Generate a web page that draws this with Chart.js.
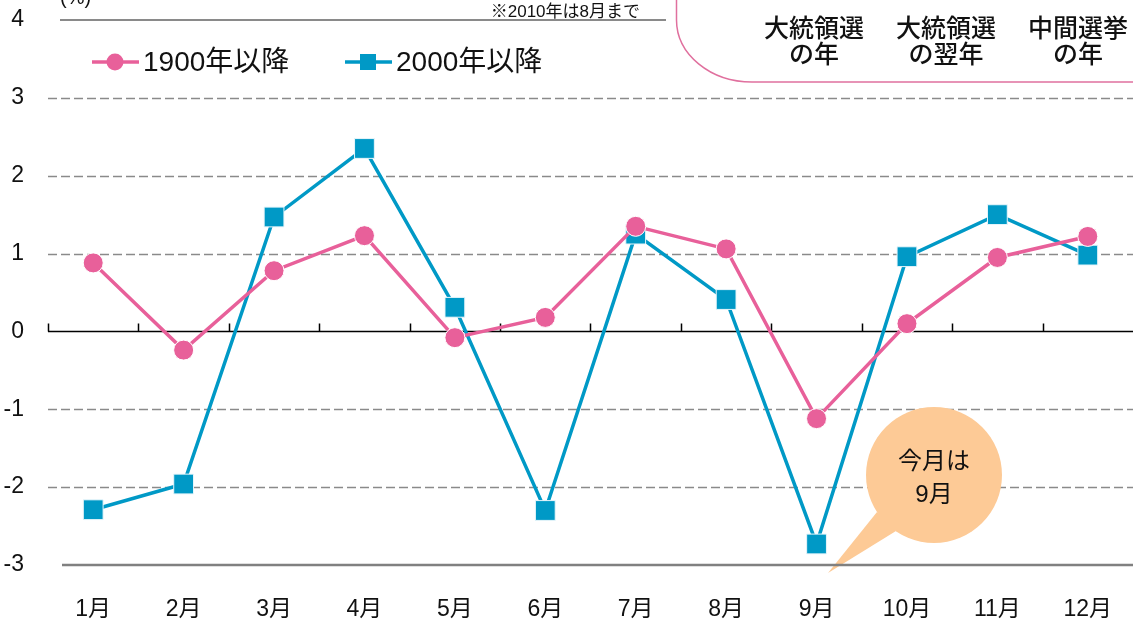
<!DOCTYPE html>
<html>
<head>
<meta charset="utf-8">
<script src="https://cdn.jsdelivr.net/npm/chart.js@4/dist/chart.umd.min.js"></script>
<style>
  html, body { margin: 0; padding: 0; background: #fff; }
  #wrap { width: 1133px; height: 622px; position: relative; }
</style>
</head>
<body>
<div id="wrap"><canvas id="c" width="1133" height="622"></canvas></div>
<script>
// month labels
const months = ['1月', '2月', '3月', '4月', '5月', '6月', '7月', '8月', '9月', '10月', '11月', '12月'];
// average monthly change (%)
const since1900 = [0.88, -0.24, 0.78, 1.23, -0.08, 0.18, 1.35, 1.06, -1.12, 0.10, 0.95, 1.22];
const since2000 = [-2.29, -1.96, 1.47, 2.35, 0.31, -2.30, 1.25, 0.41, -2.73, 0.96, 1.50, 0.98];
const seriesNames = ['1900年以降', '2000年以降'];
const boxLabels = [['大統領選', 'の年'], ['大統領選', 'の翌年'], ['中間選挙', 'の年']];

const FONT = '"Liberation Sans", "Noto Sans CJK JP", sans-serif';
const PINK = '#e8609a';
const BLUE = '#0099c6';

// grid lines, zero line with ticks, callout bubble
const backdrop = {
    id: 'backdrop',
    beforeDatasetsDraw(chart) {
        const ctx = chart.ctx;
        const area = chart.chartArea;
        const y = chart.scales.y;
        const x = chart.scales.x;
        ctx.save();

        // dashed grid
        y.ticks.forEach(t => {
            const py = Math.round(y.getPixelForValue(t.value)) + 0.5;
            if (t.value === 0 || t.value === 4 || t.value === -3) return;
            ctx.strokeStyle = '#8a8a8a';
            ctx.lineWidth = 1.3;
            ctx.setLineDash([9, 4]);
            ctx.beginPath();
            ctx.moveTo(area.left, py);
            ctx.lineTo(area.right, py);
            ctx.stroke();
        });
        ctx.setLineDash([]);

        // top line
        const pTop = y.getPixelForValue(4);
        ctx.strokeStyle = '#8a8a8a';
        ctx.lineWidth = 2;
        ctx.beginPath();
        ctx.moveTo(60, pTop);
        ctx.lineTo(666, pTop);
        ctx.stroke();

        // callout bubble
        ctx.fillStyle = '#fdca96';
        ctx.beginPath();
        ctx.moveTo(828, 573);
        ctx.lineTo(877, 512);
        ctx.lineTo(896, 531);
        ctx.closePath();
        ctx.fill();
        ctx.beginPath();
        ctx.arc(934, 475, 68, 0, Math.PI * 2);
        ctx.fill();
        ctx.fillStyle = '#111';
        ctx.font = '24px ' + FONT;
        ctx.textAlign = 'center';
        ctx.textBaseline = 'middle';
        ctx.fillText('今月は', 934, 462);
        ctx.fillText('9月', 934, 495);

        // bottom line
        const pBot = y.getPixelForValue(-3);
        ctx.strokeStyle = '#808080';
        ctx.lineWidth = 2.5;
        ctx.beginPath();
        ctx.moveTo(62, pBot);
        ctx.lineTo(area.right, pBot);
        ctx.stroke();

        // zero line with category ticks
        const p0 = Math.round(y.getPixelForValue(0)) + 0.5;
        ctx.strokeStyle = '#000';
        ctx.lineWidth = 1.5;
        ctx.beginPath();
        ctx.moveTo(area.left, p0);
        ctx.lineTo(area.right, p0);
        const step = x.getPixelForValue(1) - x.getPixelForValue(0);
        for (let i = 0; i < months.length; i++) {
            const px = Math.round(x.getPixelForValue(i) - step / 2) + 0.5;
            ctx.moveTo(px, p0);
            ctx.lineTo(px, p0 - 8);
        }
        ctx.stroke();
        ctx.restore();
    },
    afterDraw(chart) {
        const ctx = chart.ctx;
        ctx.save();

        // unit and note
        ctx.fillStyle = '#111';
        ctx.font = '20px ' + FONT;
        ctx.textAlign = 'left';
        ctx.textBaseline = 'alphabetic';
        ctx.fillText('(%)', 60, 4);
        ctx.font = '17px ' + FONT;
        ctx.textAlign = 'right';
        ctx.fillText('※2010年は8月まで', 640, 17);

        // legend
        const items = [
            { x: 92, color: PINK, shape: 'circle', text: seriesNames[0] },
            { x: 345, color: BLUE, shape: 'rect', text: seriesNames[1] }
        ];
        items.forEach(it => {
            const ly = 62;
            ctx.strokeStyle = it.color;
            ctx.lineWidth = 3.5;
            ctx.beginPath();
            ctx.moveTo(it.x, ly);
            ctx.lineTo(it.x + 47, ly);
            ctx.stroke();
            ctx.fillStyle = it.color;
            ctx.beginPath();
            if (it.shape === 'circle') {
                ctx.arc(it.x + 23, ly, 8.5, 0, Math.PI * 2);
            } else {
                ctx.rect(it.x + 23 - 8, ly - 8, 16, 16);
            }
            ctx.fill();
            ctx.fillStyle = '#111';
            ctx.font = '28px ' + FONT;
            ctx.textAlign = 'left';
            ctx.textBaseline = 'middle';
            ctx.fillText(it.text, it.x + 51, ly + 1);
        });

        // rounded box top right
        ctx.strokeStyle = '#e0709e';
        ctx.lineWidth = 1.5;
        ctx.beginPath();
        ctx.moveTo(676.5, -5);
        ctx.lineTo(676.5, 20);
        ctx.ellipse(752, 20, 75.5, 62, 0, Math.PI, Math.PI / 2, true);
        ctx.lineTo(1140, 82);
        ctx.stroke();

        ctx.fillStyle = '#111';
        ctx.font = '500 25px ' + FONT;
        ctx.textAlign = 'center';
        ctx.textBaseline = 'middle';
        const cx = [814, 946, 1078];
        boxLabels.forEach((lines, i) => {
            ctx.fillText(lines[0], cx[i], 30);
            ctx.fillText(lines[1], cx[i], 56);
        });
        ctx.restore();
    }
};

new Chart(document.getElementById('c'), {
    type: 'line',
    data: {
        labels: months,
        datasets: [
            {
                label: seriesNames[0],
                data: since1900,
                borderColor: PINK,
                backgroundColor: PINK,
                borderWidth: 3.5,
                pointStyle: 'circle',
                pointRadius: 10,
                pointBorderColor: '#fff',
                pointBorderWidth: 1,
                tension: 0,
                clip: false
            },
            {
                label: seriesNames[1],
                data: since2000,
                borderColor: BLUE,
                backgroundColor: BLUE,
                borderWidth: 3.5,
                pointStyle: 'rect',
                pointRadius: 14,
                pointBorderColor: '#e8f6fb',
                pointBorderWidth: 1,
                tension: 0,
                clip: false
            }
        ]
    },
    options: {
        responsive: false,
        animation: false,
        layout: { autoPadding: false, padding: { top: 20, left: 0, right: 0, bottom: 0 } },
        plugins: {
            legend: { display: false },
            tooltip: { enabled: false }
        },
        scales: {
            x: {
                offset: true,
                grid: { display: false, drawTicks: false },
                border: { display: false },
                ticks: {
                    color: '#111',
                    font: { family: FONT, size: 23 },
                    padding: 31,
                    maxRotation: 0
                },
                afterFit(scale) {
                    scale.height = 57;
                    scale.paddingLeft = 0;
                    scale.paddingRight = 0;
                }
            },
            y: {
                min: -3,
                max: 4,
                grid: { display: false, drawTicks: false },
                border: { display: false },
                ticks: {
                    stepSize: 1,
                    color: '#111',
                    font: { family: FONT, size: 23 },
                    padding: 24
                },
                afterFit(scale) {
                    scale.width = 48;
                    // labels sit beside the lines, no extra top/bottom room needed
                    scale.paddingTop = 0;
                    scale.paddingBottom = 0;
                }
            }
        }
    },
    plugins: [backdrop]
});
</script>
</body>
</html>
